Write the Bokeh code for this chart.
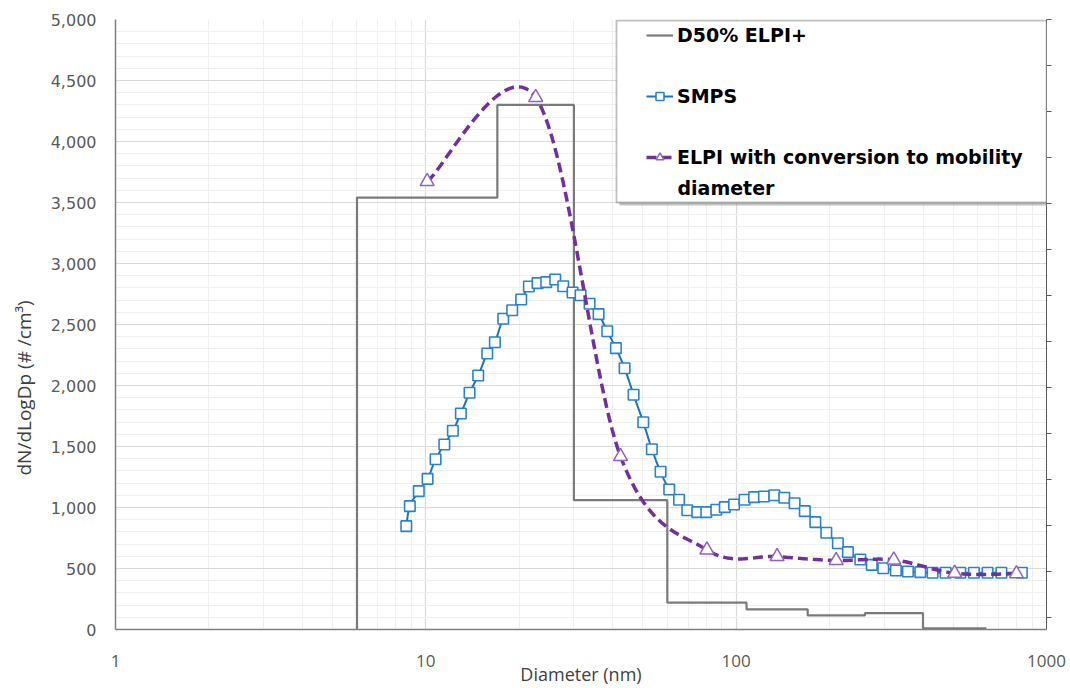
import numpy as np
from bokeh.plotting import figure
from bokeh.models import (FixedTicker, SingleIntervalTicker, NumeralTickFormatter, LinearAxis,
                          Range1d, Legend, LegendItem, BoxAnnotation, CustomJSTickFormatter, Label, Title)
from bokeh.embed import file_html
from bokeh.resources import INLINE

# ELPI+ stage cut-point diameters (nm) and the level of each stage
d50_edges = [6, 17, 30, 60, 108, 170, 260, 400, 640]
d50_values = [3540, 4300, 1060, 220, 165, 115, 135, 10]

# SMPS size distribution
smps_d = [8.65, 8.88, 9.49, 10.13, 10.75, 11.47, 12.22, 12.97, 13.83, 14.75, 15.77, 16.69,
          17.76, 18.98, 20.29, 21.48, 22.91, 24.43, 26.12, 27.72, 29.70, 31.52, 33.70, 36.03,
          38.42, 40.97, 43.70, 46.71, 50.19, 53.50, 57.07, 60.86, 65.46, 69.57, 74.93, 80.11,
          86.29, 91.90, 98.46, 106.4, 114.2, 122.9, 132.7, 142.9, 154.3, 166.4, 179.9, 195.2,
          212.7, 229.1, 251.2, 273.5, 297.9, 327.1, 357.6, 392.0, 429.4, 473.0, 527.6, 583.5,
          645.9, 715.5, 833.0]
smps_n = [847, 1011, 1134, 1235, 1396, 1516, 1629, 1771, 1940, 2082, 2262, 2355,
          2547, 2617, 2705, 2812, 2839, 2847, 2869, 2814, 2762, 2740, 2670, 2585,
          2445, 2306, 2142, 1924, 1699, 1478, 1293, 1148, 1063, 978, 962, 962,
          981, 1003, 1025, 1063, 1085, 1090, 1101, 1080, 1035, 970, 880, 793,
          707, 634, 574, 530, 502, 484, 475, 470, 465, 465, 465, 465,
          465, 465, 465]

# ELPI stages converted to mobility diameter
elpi_d = [10.1, 22.6, 42.4, 80.5, 135.5, 210, 322, 506, 800]
elpi_n = [3672, 4361, 1418, 653, 598, 566, 571, 461, 457]

x_ticks = [1, 10, 100, 1000]

FRAME_H = 610  # plot-area height in pixels


def smooth(xs, ys, n=24):
    """Bezier smoothing (Catmull-Rom style) in log-x / linear-y space."""
    P = np.column_stack([np.log10(xs), np.asarray(ys, float)])
    Q = np.vstack([P[0], P, P[-1]])
    t = np.linspace(0, 1, n + 1)[1:, None]
    out = [P[0]]
    for i in range(len(P) - 1):
        p0, p1, p2, p3 = Q[i], Q[i + 1], Q[i + 2], Q[i + 3]
        c1 = p1 + (p2 - p0) / 6.0
        c2 = p2 - (p3 - p1) / 6.0
        seg = (1 - t) ** 3 * p1 + 3 * (1 - t) ** 2 * t * c1 + 3 * (1 - t) * t ** 2 * c2 + t ** 3 * p2
        out.extend(seg)
    out = np.array(out)
    return 10 ** out[:, 0], out[:, 1]


# step outline of the ELPI+ stages
step_x, step_y = [d50_edges[0]], [0]
for i, v in enumerate(d50_values):
    step_x += [d50_edges[i], d50_edges[i + 1]]
    step_y += [v, v]

p = figure(width=1070, height=688, x_axis_type="log", x_range=(1, 1000), y_range=(0, 5000),
           output_backend="svg", toolbar_location=None,
           min_border_left=115, min_border_right=24, min_border_top=19, min_border_bottom=59)
p.outline_line_color = None
p.background_fill_color = "white"

# grid
minor_x = [m * 10 ** k for k in range(0, 3) for m in range(2, 10)]
p.xaxis.ticker = FixedTicker(ticks=x_ticks, minor_ticks=minor_x)
p.xaxis.formatter = NumeralTickFormatter(format="0")
p.yaxis.ticker = SingleIntervalTicker(interval=500, num_minor_ticks=5)
p.yaxis.formatter = NumeralTickFormatter(format="0,0")
p.xgrid.grid_line_color = "#d9d9d9"
p.ygrid.grid_line_color = "#d9d9d9"
p.xgrid.minor_grid_line_color = "#efefef"
p.ygrid.minor_grid_line_color = "#efefef"
p.xgrid.grid_line_width = 1.2
p.ygrid.grid_line_width = 1.2

# axes
p.xaxis.axis_label = "Diameter (nm)"
for ax in (p.xaxis[0], p.yaxis[0]):
    ax.major_tick_out = 0
    ax.major_tick_in = 0
    ax.minor_tick_out = 0
    ax.minor_tick_in = 0
    ax.axis_line_color = "#7f7f7f"
    ax.axis_line_width = 1.5
    ax.major_label_text_color = "#595959"
    ax.axis_label_text_color = "#404040"
    ax.axis_label_text_font = "Open Sans"
    ax.axis_label_text_font_size = "18px"
    ax.axis_label_text_font_style = "normal"
p.yaxis.major_label_text_font = "DejaVu Sans"
p.yaxis.major_label_text_font_size = "16px"
p.yaxis.major_label_standoff = 19
p.xaxis.major_label_text_font = "Open Sans"
p.xaxis.major_label_text_font_size = "17px"
p.xaxis.major_label_standoff = 25
p.xaxis.axis_label_standoff = -8

# y-axis title, set a little below the middle of the axis
ytitle = Title(text="dN/dLogDp (# /cm³)", align="left", offset=154, standoff=18,
               vertical_align="top",
               text_font="Open Sans", text_font_size="19px", text_font_style="normal",
               text_color="#404040")
p.add_layout(ytitle, "left")

# right-hand axis: tick marks only
p.extra_y_ranges = {"r": Range1d(start=-0.26, end=13)}
rax = LinearAxis(y_range_name="r", ticker=SingleIntervalTicker(interval=1, num_minor_ticks=0),
                 formatter=CustomJSTickFormatter(code="return ''"))
rax.major_tick_out = 5
rax.major_tick_in = 0
rax.minor_tick_out = 0
rax.axis_line_color = "#595959"
rax.major_tick_line_color = "#595959"
rax.major_label_standoff = 0
p.add_layout(rax, "right")

# series
r_step = p.line(step_x, step_y, line_color="#7a7a7a", line_width=2.2)

sx, sy = smooth(smps_d, smps_n, 8)
r_smps_line = p.line(sx, sy, line_color="#1873c0", line_width=2.0)
r_smps_pts = p.scatter(smps_d, smps_n, marker="square", size=10.5, fill_color="white",
                       line_color="#2a82cf", line_width=1.6)

ex, ey = smooth(elpi_d, elpi_n, 30)
r_elpi_line = p.line(ex, ey, line_color="#7030a0", line_width=3.5, line_dash="10 5")
r_elpi_pts = p.scatter(elpi_d, elpi_n, marker="triangle", size=14, fill_color="white",
                       line_color="#9062c4", line_width=1.5)

# legend frame with drop shadow
scr = dict(left_units="screen", right_units="screen", top_units="screen", bottom_units="screen")
shadow = BoxAnnotation(left=504, right=934, top=FRAME_H - 4, bottom=FRAME_H - 186,
                       fill_color="#9a9a9a", fill_alpha=0.6, line_color=None, level="annotation", **scr)
frame = BoxAnnotation(left=501, right=931, top=FRAME_H - 1, bottom=FRAME_H - 183,
                      fill_color="white", fill_alpha=1.0, line_color="#303030", line_width=1.8,
                      level="annotation", **scr)
p.add_layout(shadow)
p.add_layout(frame)

legend = Legend(items=[LegendItem(label="D50% ELPI+", renderers=[r_step]),
                       LegendItem(label="SMPS", renderers=[r_smps_line, r_smps_pts]),
                       LegendItem(label="ELPI with conversion to mobility",
                                  renderers=[r_elpi_line, r_elpi_pts])],
                location=(531, FRAME_H - 149), padding=0, spacing=39, margin=0,
                glyph_width=27, glyph_height=20, label_height=22, label_standoff=4,
                label_text_font="DejaVu Sans", label_text_font_style="bold",
                label_text_font_size="19px", label_text_color="black",
                background_fill_alpha=0, border_line_color=None)
p.add_layout(legend, "center")

# second line of the third legend entry
cont = Label(x=562, y=FRAME_H - 168, x_units="screen", y_units="screen", text="diameter",
             text_font="DejaVu Sans", text_font_style="bold", text_font_size="19px",
             text_color="black", text_baseline="middle")
p.add_layout(cont)

open("out.html", "w").write(file_html(p, INLINE))
